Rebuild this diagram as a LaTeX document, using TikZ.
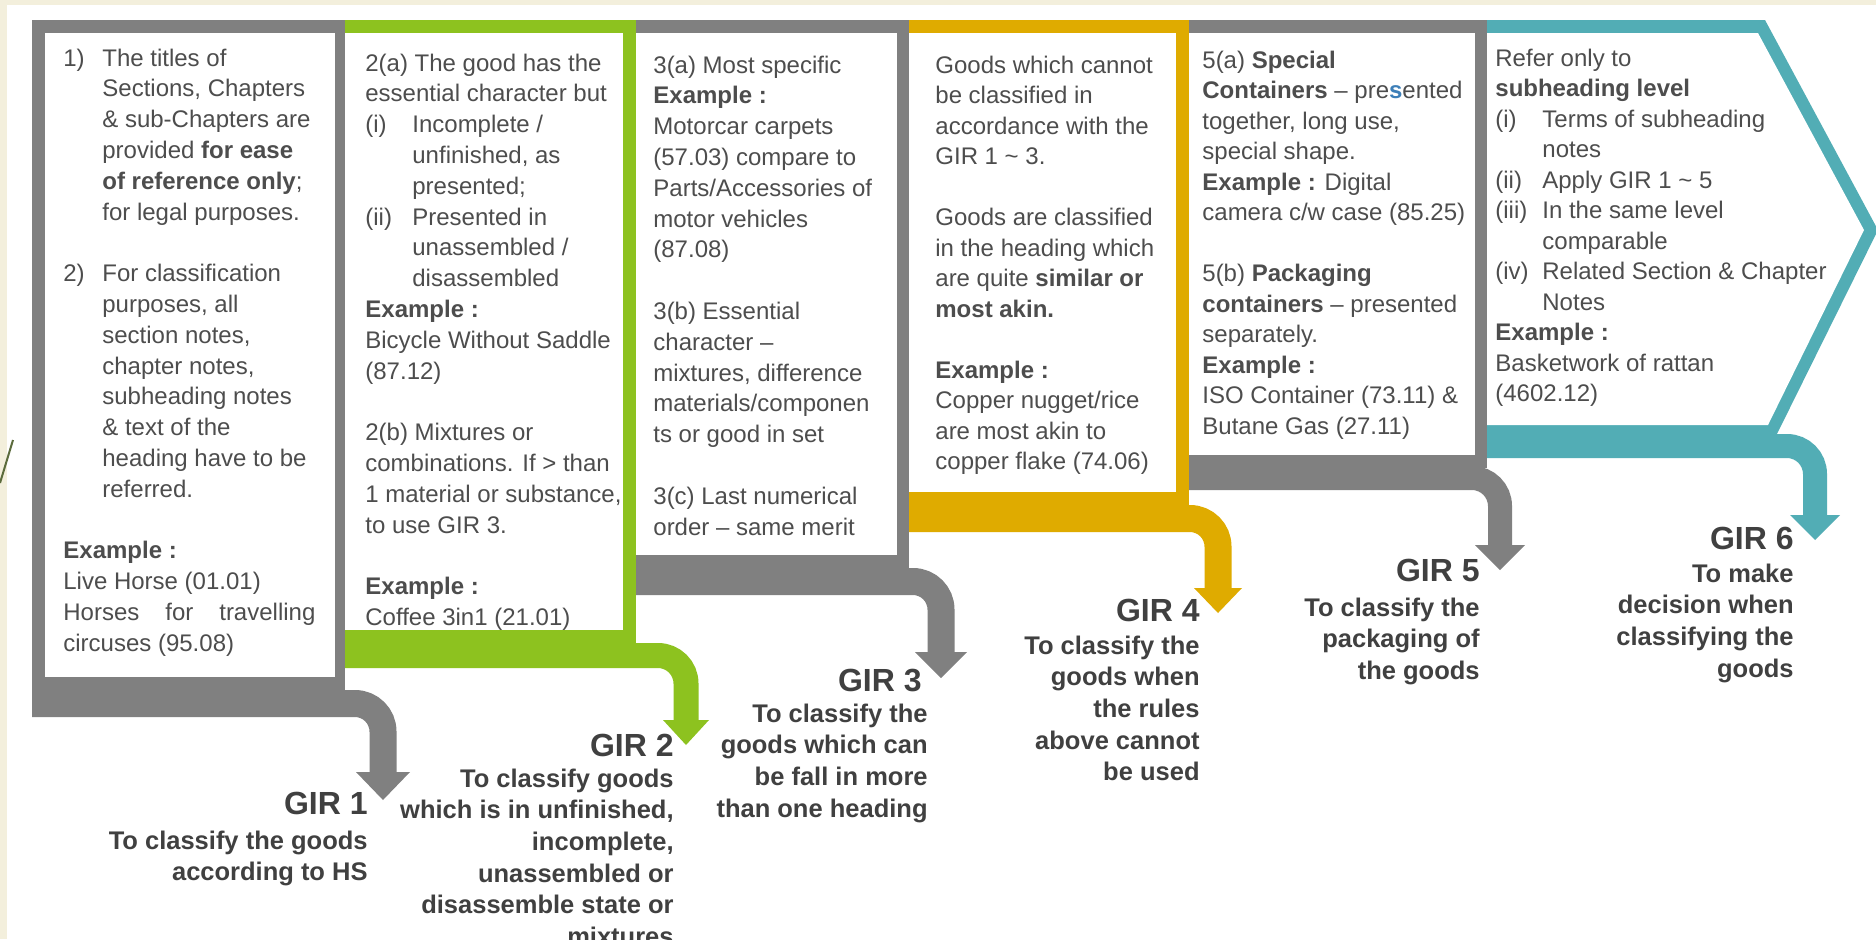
\documentclass[tikz,border=0pt]{standalone}
\usepackage{fontspec}
\setmainfont{Liberation Sans}
\definecolor{cream}{HTML}{F3EFDC}
\definecolor{fgrey}{HTML}{808080}
\definecolor{fgreen}{HTML}{8DC21F}
\definecolor{fgold}{HTML}{DFAB00}
\definecolor{fteal}{HTML}{52ADB5}
\definecolor{txt}{HTML}{4D4D4D}
\definecolor{girtxt}{HTML}{404040}
\definecolor{olive}{HTML}{5B6B3C}
\definecolor{selblue}{HTML}{3D7FB8}
\newlength\hind
\newcommand{\itm}[1]{\makebox[\hind][l]{#1}}
\newcommand{\ind}{\hspace*{\hind}}
\tikzset{
  body/.style={anchor=base west, inner sep=0pt, text=txt, font=\fontsize{12}{15.4}\selectfont},
  bodyb/.style={anchor=base west, inner sep=0pt, text=txt, font=\fontsize{12}{15.25}\selectfont},
  girhead/.style={anchor=base east, inner sep=0pt, text=girtxt, font=\fontsize{16}{19}\selectfont\bfseries},
  girdesc/.style={anchor=base east, inner sep=0pt, text=girtxt, font=\fontsize{12.75}{15.85}\selectfont\bfseries},
  flow/.style={line width=#1, rounded corners=14pt},
}
\begin{document}
\begin{tikzpicture}[x=0.5pt, y=-0.5pt]
\useasboundingbox (0,0) rectangle (1876,939);
\fill[cream] (0,0) rectangle (1876,939);
\fill[white] (7,5) rectangle (1876,939);
\draw[olive, line width=1pt] (13,440) -- (0,483);

% ---------- arrows (bands) ----------
\draw[fgrey, flow=13.5pt] (32,703.5) -- (383,703.5) -- (383,773);
\fill[fgrey] (356,772) -- (410,772) -- (383,800) -- cycle;
\draw[fgreen, flow=12.5pt] (345,655.5) -- (686,655.5) -- (686,721);
\fill[fgreen] (663,720) -- (709,720) -- (686,745) -- cycle;
\draw[fgrey, flow=13.5pt] (636,581.5) -- (941,581.5) -- (941,653);
\fill[fgrey] (915,652) -- (967,652) -- (941,678) -- cycle;
\draw[fgold, flow=13.5pt] (909,518.5) -- (1218,518.5) -- (1218,589);
\fill[fgold] (1194,588) -- (1242,588) -- (1218,613) -- cycle;
\draw[fgrey, flow=12pt] (1189,478) -- (1500,478) -- (1500,546);
\fill[fgrey] (1475,545) -- (1525,545) -- (1500,570) -- cycle;
\draw[fteal, flow=12pt] (1487,446) -- (1815,446) -- (1815,516);
\fill[fteal] (1790,515) -- (1840,515) -- (1815,540) -- cycle;

% ---------- frames ----------
\fill[fgrey] (32,20) rectangle (345,690);
\fill[white] (45,33) rectangle (335,677);
\fill[fgreen] (345,20) rectangle (636,643);
\fill[white] (345,33) rectangle (623,630);
\fill[fgrey] (636,20) rectangle (909,568);
\fill[white] (636,33) rectangle (897,555);
\fill[fgold] (909,20) rectangle (1189,505);
\fill[white] (909,33) rectangle (1176,492);
\fill[fgrey] (1189,20) rectangle (1487,468);
\fill[white] (1189,33) rectangle (1475,455);
\fill[fteal] (1487,20) -- (1765,20) -- (1878,230) -- (1775,438) -- (1487,438) -- cycle;
\fill[white] (1487,33) -- (1758,33) -- (1864,230) -- (1768,425) -- (1487,425) -- cycle;

% ---------- box texts ----------
\node[body] (t1) at (63,66) {\setlength\hind{19.5pt}\begin{tabular}[t]{@{}l@{}}
\itm{1)}The titles of\\
\ind Sections, Chapters\\
\ind \& sub-Chapters are\\
\ind provided \textbf{for ease}\\
\ind \textbf{of reference only};\\
\ind for legal purposes.\\
\\
\itm{2)}For classification\\
\ind purposes, all\\
\ind section notes,\\
\ind chapter notes,\\
\ind subheading notes\\
\ind \& text of the\\
\ind heading have to be\\
\ind referred.\\
\\
\textbf{Example :}\\
Live Horse (01.01)\\
\makebox[126pt][s]{Horses for travelling}\\
circuses (95.08)
\end{tabular}};

\node[body] (t2) at (365,71) {\setlength\hind{23.5pt}\begin{tabular}[t]{@{}l@{}}
2(a) The good has the\\
essential character but\\
\itm{(i)}Incomplete /\\
\ind unfinished, as\\
\ind presented;\\
\itm{(ii)}Presented in\\
\ind unassembled /\\
\ind disassembled\\
\textbf{Example :}\\
Bicycle Without Saddle\\
(87.12)\\
\\
2(b) Mixtures or\\
combinations. If > than\\
1 material or substance,\\
to use GIR 3.\\
\\
\textbf{Example :}\\
Coffee 3in1 (21.01)
\end{tabular}};

\node[body] (t3) at (653,73) {\begin{tabular}[t]{@{}l@{}}
3(a) Most specific\\
\textbf{Example :}\\
Motorcar carpets\\
(57.03) compare to\\
Parts/Accessories of\\
motor vehicles\\
(87.08)\\
\\
3(b) Essential\\
character –\\
mixtures, difference\\
materials/componen\\
ts or good in set\\
\\
3(c) Last numerical\\
order – same merit
\end{tabular}};

\node[bodyb] (t4) at (935,73) {\begin{tabular}[t]{@{}l@{}}
Goods which cannot\\
be classified in\\
accordance with the\\
GIR 1 \textasciitilde{} 3.\\
\\
Goods are classified\\
in the heading which\\
are quite \textbf{similar or}\\
\textbf{most akin.}\\
\\
\textbf{Example :}\\
Copper nugget/rice\\
are most akin to\\
copper flake (74.06)
\end{tabular}};

\node[bodyb] (t5) at (1202,68) {\begin{tabular}[t]{@{}l@{}}
5(a) \textbf{Special}\\
\textbf{Containers} – pre{\color{selblue}\textbf{s}}ented\\
together, long use,\\
special shape.\\
\textbf{Example :} Digital\\
camera c/w case (85.25)\\
\\
5(b) \textbf{Packaging}\\
\textbf{containers} – presented\\
separately.\\
\textbf{Example :}\\
ISO Container (73.11) \&\\
Butane Gas (27.11)
\end{tabular}};

\node[bodyb] (t6) at (1495,66) {\setlength\hind{23.5pt}\begin{tabular}[t]{@{}l@{}}
Refer only to\\
\textbf{subheading level}\\
\itm{(i)}Terms of subheading\\
\ind notes\\
\itm{(ii)}Apply GIR 1 \textasciitilde{} 5\\
\itm{(iii)}In the same level\\
\ind comparable\\
\itm{(iv)}Related Section \& Chapter\\
\ind Notes\\
\textbf{Example :}\\
Basketwork of rattan\\
(4602.12)
\end{tabular}};

% ---------- GIR labels ----------
\node[girhead] (g1) at (368,814) {GIR 1};
\node[girdesc] (d1) at (368,849) {\begin{tabular}[t]{@{}r@{}}To classify the goods\\according to HS\end{tabular}};
\node[girhead] (g2) at (674,756) {GIR 2};
\node[girdesc] (d2) at (674,787) {\begin{tabular}[t]{@{}r@{}}To classify goods\\which is in unfinished,\\incomplete,\\unassembled or\\disassemble state or\\mixtures\end{tabular}};
\node[girhead] (g3) at (922,691) {GIR 3};
\node[girdesc] (d3) at (928,722) {\begin{tabular}[t]{@{}r@{}}To classify the\\goods which can\\be fall in more\\than one heading\end{tabular}};
\node[girhead] (g4) at (1200,621) {GIR 4};
\node[girdesc] (d4) at (1200,654) {\begin{tabular}[t]{@{}r@{}}To classify the\\goods when\\the rules\\above cannot\\be used\end{tabular}};
\node[girhead] (g5) at (1480,581) {GIR 5};
\node[girdesc] (d5) at (1480,616) {\begin{tabular}[t]{@{}r@{}}To classify the\\packaging of\\the goods\end{tabular}};
\node[girhead] (g6) at (1794,549) {GIR 6};
\node[girdesc] (d6) at (1794,582) {\begin{tabular}[t]{@{}r@{}}To make\\decision when\\classifying the\\goods\end{tabular}};
\end{tikzpicture}
\end{document}
